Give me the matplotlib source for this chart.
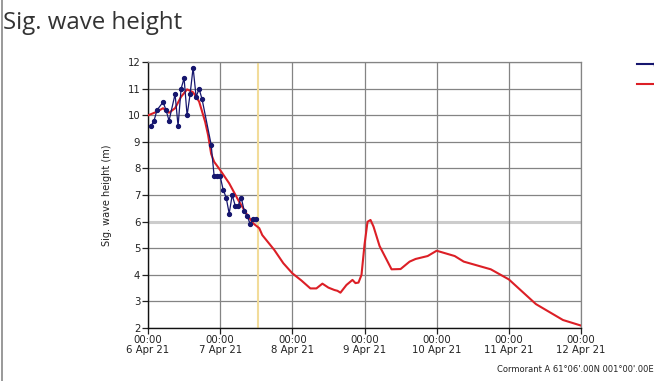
import matplotlib
matplotlib.use("Agg")
import matplotlib.pyplot as plt
from matplotlib.lines import Line2D

# ---- data (hours since 6 Apr 21 00:00) ----
obs_hours = [1, 2, 3, 5, 6, 7, 9, 10, 11, 12, 13, 14, 15, 16, 17, 18,
             21, 22, 23, 24, 25, 26, 27, 28, 29, 30, 31, 32, 33, 34, 35, 36]
obs_hs = [9.6, 9.8, 10.2, 10.5, 10.2, 9.8, 10.8, 9.6, 11.0, 11.4, 10.0, 10.8, 11.8, 10.7, 11.0, 10.6,
          8.9, 7.7, 7.7, 7.7, 7.2, 6.9, 6.3, 7.0, 6.6, 6.6, 6.9, 6.4, 6.2, 5.9, 6.1, 6.1]

fc_hours = [0, 3, 5, 7, 9, 11, 13, 15, 17, 19, 20, 21, 22, 24, 27, 30, 33, 35, 37, 38,
            42, 45, 48, 51, 54, 56, 58, 60, 62, 63, 64, 66, 68, 69, 70, 71, 72, 73, 74, 75,
            77, 81, 84, 87, 89, 93, 96, 102, 105, 114, 120, 129, 138, 144]
fc_hs = [10.0, 10.14, 10.27, 10.1, 10.27, 10.7, 10.98, 10.87, 10.52, 9.76, 9.25, 8.55, 8.25, 7.94,
         7.44, 6.81, 6.25, 5.93, 5.75, 5.49, 4.93, 4.43, 4.05, 3.78, 3.48, 3.48, 3.66, 3.51,
         3.42, 3.39, 3.32, 3.61, 3.80, 3.68, 3.70, 3.99, 5.12, 5.99, 6.06, 5.81, 5.08, 4.20,
         4.21, 4.49, 4.59, 4.70, 4.90, 4.70, 4.49, 4.20, 3.82, 2.89, 2.29, 2.08]

now_hour = 36.6
threshold = 6

x_tick_hours = [0, 24, 48, 72, 96, 120, 144]
x_tick_labels = ["00:00\n6 Apr 21", "00:00\n7 Apr 21", "00:00\n8 Apr 21", "00:00\n9 Apr 21",
                 "00:00\n10 Apr 21", "00:00\n11 Apr 21", "00:00\n12 Apr 21"]
y_ticks = list(range(2, 13))

W, H = 654, 381
fig = plt.figure(figsize=(W / 100, H / 100), dpi=100)
fig.patch.set_facecolor("white")

ax = fig.add_axes([148 / W, 1 - 327.7 / H, (581 - 148) / W, (327.7 - 62.3) / H])
ax.set_xlim(0, 144)
ax.set_ylim(2, 12)

# grid
for yv in y_ticks:
    if yv == threshold:
        ax.axhline(yv, color="#cccccc", lw=2.2, zorder=1)
    else:
        ax.axhline(yv, color="#848484", lw=0.9, zorder=1)
for xv in x_tick_hours:
    ax.axvline(xv, color="#848484", lw=0.9, zorder=1)

ax.axvline(now_hour, color="#f2dc9a", lw=1.5, zorder=2)

ax.plot(fc_hours, fc_hs, color="#dc1f26", lw=1.5, zorder=3)
ax.plot(obs_hours, obs_hs, color="#16166e", lw=0.9, marker="o", ms=2.8, zorder=4)

ax.set_xticks(x_tick_hours)
ax.set_xticklabels(x_tick_labels, fontsize=7.3, color="#222222", linespacing=1.0)
ax.set_yticks(y_ticks)
ax.set_yticklabels([str(v) for v in y_ticks], fontsize=7.3, color="#222222")
ax.tick_params(axis="both", direction="out", length=4, width=0.9, color="#222222", pad=2)
ax.tick_params(axis="y", pad=1.5)
ax.tick_params(axis="x", pad=1.5)

for side in ["left", "bottom"]:
    ax.spines[side].set_color("#111111")
    ax.spines[side].set_linewidth(1.0)
for side in ["top", "right"]:
    ax.spines[side].set_color("#848484")
    ax.spines[side].set_linewidth(0.9)

ax.set_ylabel("Sig. wave height (m)", fontsize=7, color="#222222", labelpad=11.5)

fig.text(3 / W, 1 - 23 / H, "Sig. wave height", fontsize=17.3, family="Open Sans",
         color="#333333", va="center", ha="left")
fig.text(497 / W, 1 - 369 / H, "Cormorant A 61\u00b006'.00N 001\u00b000'.00E", fontsize=6,
         color="#222222", va="center", ha="left")

# legend keys (their labels lie beyond the right edge in the reference)
h_obs = Line2D([], [], color="#16166e", lw=1.5, marker="|", ms=3)
h_fc = Line2D([], [], color="#dc1f26", lw=1.5)
fig.legend([h_obs, h_fc], ["", ""], loc="upper left",
           bbox_to_anchor=(637 / W, 1 - 60 / H), frameon=False, handlelength=3,
           fontsize=8, labelspacing=0.85, borderaxespad=0, borderpad=0)

# frame line on left edge of the screenshot
fig.add_artist(Line2D([1.5 / W, 1.5 / W], [0, 1], color="#888888", lw=1.2))

fig.savefig("out.png", dpi=100)
